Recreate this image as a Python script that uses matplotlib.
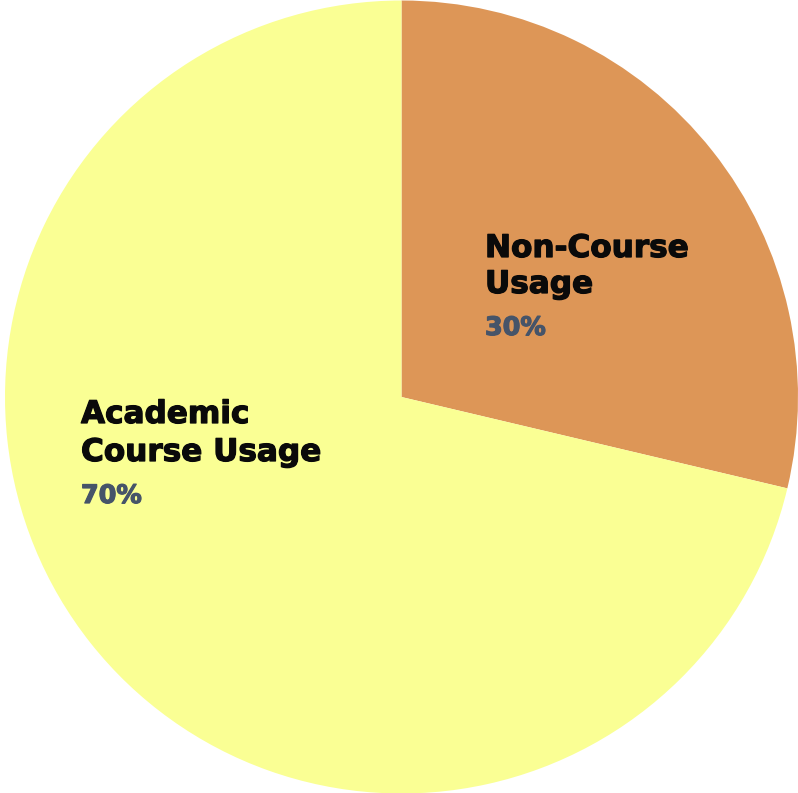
import matplotlib
matplotlib.use("Agg")
import matplotlib.pyplot as plt
import matplotlib.patheffects as pe

categories = ["Non-Course\nUsage", "Academic\nCourse Usage"]
values = [28.7, 71.3]
pct_labels = ["30%", "70%"]
colors = ["#DD9657", "#FAFF94"]

W, H = 798, 793
fig = plt.figure(figsize=(W / 100, H / 100), dpi=100)
ax = fig.add_axes([0, 0, 1, 1])
ax.pie(values, colors=colors, startangle=90, counterclock=False,
       radius=1.0, wedgeprops=dict(linewidth=0))
cx, cy, r = 401.5, 396.0, 396.5
ax.set_xlim(-cx / r, (W - cx) / r)
ax.set_ylim(-cy / r, (H - cy) / r)
ax.set_aspect("equal")
ax.axis("off")

font = "DejaVu Sans"
def ptxt(x, y, s, size, color):
    ax.text(x / W, 1 - y / H, s, transform=ax.transAxes, fontsize=size,
            fontweight="bold", family=font, color=color, ha="left", va="baseline",
            path_effects=[pe.withStroke(linewidth=0.9, foreground=color)])

# Non-Course
l1, l2 = categories[0].split("\n")
ptxt(485, 257, l1, 22.4, "#0a0a0a")
ptxt(485, 293, l2, 22.4, "#0a0a0a")
ptxt(485, 335, pct_labels[0], 18.3, "#465469")
# Academic
a1, a2 = categories[1].split("\n")
ptxt(81, 423, a1, 22.4, "#0a0a0a")
ptxt(81, 461, a2, 22.4, "#0a0a0a")
ptxt(81, 503, pct_labels[1], 18.3, "#465469")

fig.savefig("out.png", dpi=100)
